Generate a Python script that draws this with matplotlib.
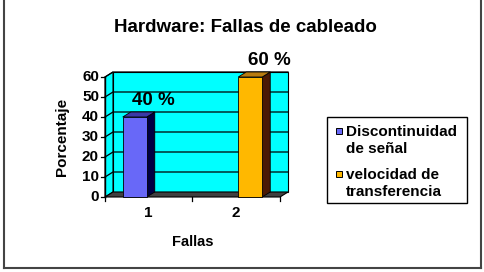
import matplotlib
matplotlib.use("Agg")
import matplotlib.pyplot as plt
from matplotlib.patches import Polygon, Rectangle
from matplotlib.lines import Line2D

plt.rcParams['font.family'] = ['Liberation Sans', 'DejaVu Sans']
plt.rcParams['font.weight'] = 'bold'

# data
categories = ['1', '2']
series_names = ['Discontinuidad\nde señal', 'velocidad de\ntransferencia']
series_cat = [0, 1]          # category index where each series has its bar
values = [40, 60]
yticks = [0, 10, 20, 30, 40, 50, 60]

front_cols = ['#6868F8', '#FFB800']
side_cols = ['#000044', '#4A1A05']
top_cols = ['#3A3AA8', '#B87C10']
wall_col = '#00FFFF'
floor_col = '#404040'

W, H = 485, 272
fig = plt.figure(figsize=(W / 100, H / 100), dpi=100)
fig.patch.set_facecolor('white')

# axes covers front plane: x 105..280 px, y 197..77 px (top-down)
ax = fig.add_axes([105 / W, (H - 197) / H, 175 / W, 120 / H])
ax.set_xlim(0.5, 2.5)
ax.set_ylim(0, 60)
ax.axis('off')

px_x = 2.0 / 175      # data units per pixel in x
px_y = 60 / 120       # data units per pixel in y
dx, dy = 8 * px_x, 5 * px_y
x0, x1 = 0.5, 2.5
ymax = yticks[-1]

def poly(pts, fc, z, lw=0.8):
    ax.add_patch(Polygon(pts, closed=True, facecolor=fc, edgecolor='black',
                         lw=lw, zorder=z, clip_on=False))

# back wall, left wall, floor
poly([(x0 + dx, dy), (x1 + dx, dy), (x1 + dx, ymax + dy), (x0 + dx, ymax + dy)], wall_col, 1)
poly([(x0, 0), (x0 + dx, dy), (x0 + dx, ymax + dy), (x0, ymax)], wall_col, 1)
poly([(x0, 0), (x1, 0), (x1 + dx, dy), (x0 + dx, dy)], floor_col, 2)

# gridlines
for v in yticks[1:]:
    ax.plot([x0, x0 + dx, x1 + dx], [v, v + dy, v + dy], color='black', lw=0.9,
            zorder=2, clip_on=False)

# y ticks and labels
for v in yticks:
    ax.plot([x0 - 4 * px_x, x0], [v, v], color='black', lw=0.9, clip_on=False, zorder=3)
    ax.text(x0 - 6 * px_x, v, str(v), ha='right', va='center', fontsize=11,
            fontweight='bold')
ax.plot([x0, x0], [0, ymax], color='black', lw=1.0, clip_on=False, zorder=3)

# x ticks and labels
for t in [0.5, 1.5, 2.5]:
    ax.plot([t, t], [0, -4 * px_y], color='black', lw=0.9, clip_on=False, zorder=3)
for i, c in enumerate(categories):
    ax.text(i + 1, -16 * px_y, c, ha='center', va='center', fontsize=11,
            fontweight='bold')

# bars
bw = 24 * px_x
bdx, bdy = 8 * px_x, 5 * px_y
for i, (ci, v) in enumerate(zip(series_cat, values)):
    xc = ci + 1 + (i - 0.5) * 0.32
    a, b = xc - bw / 2, xc + bw / 2
    poly([(b, 0), (b + bdx, bdy), (b + bdx, v + bdy), (b, v)], side_cols[i], 4, 0.6)
    poly([(a, v), (a + bdx, v + bdy), (b + bdx, v + bdy), (b, v)], top_cols[i], 4, 0.6)
    poly([(a, 0), (b, 0), (b, v), (a, v)], front_cols[i], 5, 0.6)
    ax.text(xc + 19 * px_x, v + 6, '%d %%' % v, ha='center', va='baseline',
            fontsize=13.5, fontweight='bold', zorder=6)

# titles
fig.text(245 / W, 1 - 28 / H, 'Hardware: Fallas de cableado', ha='center',
         va='center', fontsize=13.5, fontweight='bold')
fig.text(193 / W, 1 - 242 / H, 'Fallas', ha='center', va='center',
         fontsize=10.5, fontweight='bold')
fig.text(62 / W, 1 - 137 / H, 'Porcentaje', ha='center', va='center',
         rotation=90, fontsize=11, fontweight='bold')

# legend drawn by hand
fig.add_artist(Rectangle((327 / W, 1 - 203 / H), 140 / W, 86 / H,
                         transform=fig.transFigure, facecolor='white',
                         edgecolor='black', lw=1.0))
leg_y = [131, 174]
for i, name in enumerate(series_names):
    yy = leg_y[i]
    fig.add_artist(Rectangle((336 / W, 1 - (yy + 3) / H), 6 / W, 6 / H,
                             transform=fig.transFigure, facecolor=front_cols[i],
                             edgecolor='black', lw=0.7))
    fig.text(346 / W, 1 - (yy - 6) / H, name, ha='left', va='top',
             fontsize=11, fontweight='bold', linespacing=1.25)

# outer frame
for xs, ys in [([4, 4], [0, 268]), ([481, 481], [0, 268]), ([4, 481], [268, 268])]:
    fig.add_artist(Line2D([x / W for x in xs], [1 - y / H for y in ys],
                          transform=fig.transFigure, color='#444444', lw=1.5))

fig.savefig('out.png', dpi=100)
